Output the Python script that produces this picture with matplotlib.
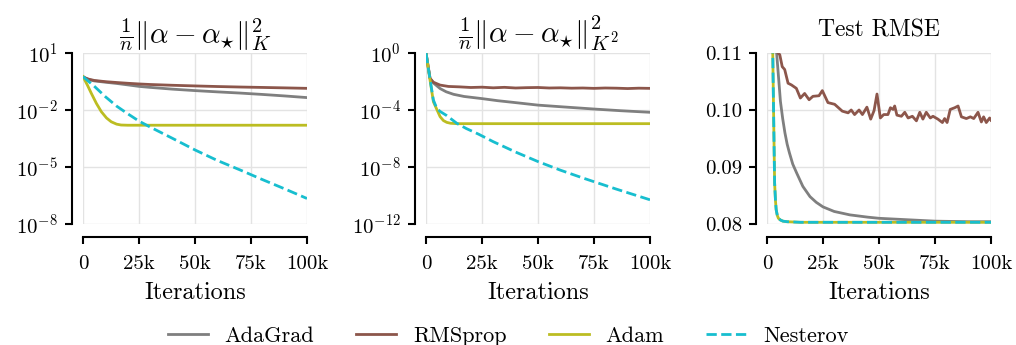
import matplotlib
matplotlib.use("Agg")
import matplotlib.pyplot as plt
from matplotlib.ticker import FixedLocator, NullLocator

plt.rcParams.update({
    "font.family": "serif",
    "font.serif": ["cmr10"],
    "mathtext.fontset": "cm",
    "axes.formatter.use_mathtext": True,
    "axes.unicode_minus": False,
})

# --- Donnees : norme K ---
k_iters_ada = [0, 1000, 2500, 5000, 10000, 15000, 20000, 25000, 30000, 40000, 50000, 60000, 70000, 80000, 90000, 100000]
k_adagrad = [0.57, 0.48, 0.40, 0.34, 0.29, 0.25, 0.21, 0.175, 0.155, 0.125, 0.105, 0.09, 0.078, 0.066, 0.055, 0.045]
k_rmsprop = [0.57, 0.49, 0.42, 0.36, 0.31, 0.28, 0.255, 0.235, 0.22, 0.20, 0.185, 0.172, 0.162, 0.154, 0.146, 0.138]
k_iters_adam = [0, 2000, 3700, 6000, 8200, 10500, 12600, 15000, 17000, 20000, 30000, 50000, 75000, 100000]
k_adam = [0.57, 0.2, 0.076, 0.022, 0.0081, 0.0038, 0.0024, 0.0018, 0.00162, 0.00158, 0.00158, 0.00158, 0.00158, 0.00158]
k_iters_nest = [0, 5000, 10000, 15000, 20000, 25000, 30000, 40000, 50000, 60000, 70000, 80000, 90000, 100000]
k_nesterov = [0.57, 0.18, 0.05, 0.016, 0.0063, 0.0026, 0.00126, 3.2e-4, 7.9e-5, 2.2e-5, 7.1e-6, 2.2e-6, 7.1e-7, 2.2e-7]

# --- Donnees : norme K^2 ---
k2_iters_rms = [0, 1800, 3300, 6300, 10000, 15000, 20000, 25000, 30000, 35000, 40000, 45000, 50000, 55000, 60000, 65000, 70000, 75000, 80000, 85000, 90000, 95000, 100000]
k2_rmsprop = [1.0, 0.0166, 0.0089, 0.0056, 0.0045, 0.0042, 0.0038, 0.0040, 0.0036, 0.0039, 0.0035, 0.0037, 0.0038, 0.0035, 0.0036, 0.0034, 0.0035, 0.0033, 0.0035, 0.0034, 0.0032, 0.0034, 0.0033]
k2_iters_ada = [0, 1800, 3300, 6300, 9000, 12300, 17000, 25000, 32000, 40700, 50000, 60000, 75000, 87000, 100000]
k2_adagrad = [1.0, 0.0166, 0.0079, 0.0032, 0.0019, 0.00126, 8.9e-4, 6.3e-4, 4.5e-4, 3.2e-4, 2.2e-4, 1.7e-4, 1.17e-4, 8.9e-5, 6.9e-5]
k2_iters_adam = [0, 1800, 3300, 4800, 6300, 7800, 9300, 11000, 13800, 20000, 40000, 60000, 80000, 100000]
k2_adam = [1.0, 0.0126, 3.8e-4, 1.12e-4, 3.4e-5, 1.8e-5, 1.35e-5, 1.17e-5, 1.1e-5, 1.1e-5, 1.1e-5, 1.1e-5, 1.1e-5, 1.1e-5]
k2_iters_nest = [0, 1800, 3300, 4800, 6300, 9300, 13800, 18000, 23500, 30000, 40000, 50000, 60000, 70000, 75000, 85000, 100000]
k2_nesterov = [1.0, 0.0141, 5.0e-4, 1.32e-4, 7.9e-5, 4.0e-5, 1.15e-5, 5.0e-6, 2.0e-6, 6.0e-7, 1.12e-7, 2.4e-8, 6.0e-9, 1.7e-9, 9.3e-10, 2.8e-10, 5.0e-11]

# --- Donnees : RMSE test ---
r_iters_ada = [0, 2500, 4300, 5000, 6000, 7000, 8000, 9000, 10000, 11500, 13300, 16000, 19200, 22000, 25000, 30000, 37000, 45000, 50000, 60000, 75000, 90000, 100000]
r_adagrad = [0.35, 0.15, 0.110, 0.1065, 0.1015, 0.0985, 0.0960, 0.0940, 0.0925, 0.0905, 0.0889, 0.0866, 0.0848, 0.0838, 0.0830, 0.0822, 0.0816, 0.0812, 0.0810, 0.0808, 0.0805, 0.0804, 0.0804]
r_iters_rms = [0, 3000, 4900, 5700, 6800, 7900, 9400, 10900, 13100, 14900, 16800, 18800, 20500, 23200, 24700, 27200, 30200,
               33600, 36200, 37600, 39100, 41100, 42600, 44600, 46300, 47800, 49100, 50600, 52100, 54000, 55100, 56300,
               57000, 58000, 60000, 61500, 63000, 64900, 66700, 68200, 69600, 71100, 72900, 74100, 76300, 78300, 79300,
               80400, 81800, 83800, 85300, 86800, 89000, 90800, 92300, 94200, 95700, 96700, 97900, 99400, 100000]
r_rmsprop = [0.35, 0.13, 0.110, 0.1097, 0.1076, 0.1071, 0.1047, 0.1044, 0.1038, 0.1021, 0.1029, 0.1018, 0.1024, 0.1025, 0.1034, 0.1013, 0.1010,
             0.0998, 0.0995, 0.1000, 0.0992, 0.1000, 0.0992, 0.1005, 0.0984, 0.0999, 0.1028, 0.0986, 0.0992, 0.0992, 0.1004, 0.1001,
             0.1007, 0.0991, 0.0989, 0.0996, 0.0986, 0.0989, 0.0981, 0.0996, 0.0984, 0.0996, 0.0986, 0.0989, 0.0984, 0.0978, 0.0985,
             0.0978, 0.1001, 0.1004, 0.1007, 0.0988, 0.0985, 0.0988, 0.0985, 0.0996, 0.0979, 0.0988, 0.0978, 0.0986, 0.0982]
r_iters_adam = [0, 1500, 2500, 3000, 3400, 3800, 4100, 4600, 5100, 6000, 7100, 9000, 15000, 30000, 50000, 75000, 100000]
r_adam = [0.35, 0.16, 0.112, 0.098, 0.0872, 0.0840, 0.0825, 0.0815, 0.0810, 0.0807, 0.0805, 0.0804, 0.0803, 0.0803, 0.0803, 0.0803, 0.0803]
r_nesterov = [0.35, 0.16, 0.112, 0.098, 0.0872, 0.0840, 0.0825, 0.0815, 0.0810, 0.0807, 0.0805, 0.0804, 0.0803, 0.0803, 0.0803, 0.0803, 0.0803]

x_ticks = [0, 25000, 50000, 75000, 100000]
x_tick_labels = ["0", "25k", "50k", "75k", "100k"]
noms = ["AdaGrad", "RMSprop", "Adam", "Nesterov"]
couleurs = ["#7f7f7f", "#8c564b", "#bcbd22", "#17becf"]

fig = plt.figure(figsize=(10.16, 3.45), dpi=100)
largeur, hauteur = 224 / 1016, 171 / 345
bas = (345 - 224) / 345
axes = [fig.add_axes([g / 1016, bas, largeur, hauteur]) for g in (83, 426, 767)]

lw = 2.0
# Panneau 1
ax = axes[0]
ax.plot(k_iters_ada, k_adagrad, color=couleurs[0], lw=lw, label=noms[0])
ax.plot(k_iters_ada, k_rmsprop, color=couleurs[1], lw=lw, label=noms[1])
ax.plot(k_iters_adam, k_adam, color=couleurs[2], lw=lw, label=noms[2])
ax.plot(k_iters_nest, k_nesterov, color=couleurs[3], lw=lw, ls="--", label=noms[3])
ax.set_yscale("log")
ax.set_ylim(1e-8, 1e1)
ax.yaxis.set_major_locator(FixedLocator([1e-8, 1e-5, 1e-2, 1e1]))
ax.set_title(r"$\frac{1}{n}\Vert\alpha-\alpha_{\star}\Vert_{K}^{2}$", fontsize=21, pad=5)

# Panneau 2
ax = axes[1]
ax.plot(k2_iters_ada, k2_adagrad, color=couleurs[0], lw=lw)
ax.plot(k2_iters_rms, k2_rmsprop, color=couleurs[1], lw=lw)
ax.plot(k2_iters_adam, k2_adam, color=couleurs[2], lw=lw)
ax.plot(k2_iters_nest, k2_nesterov, color=couleurs[3], lw=lw, ls="--")
ax.set_yscale("log")
ax.set_ylim(1e-12, 1e0)
ax.yaxis.set_major_locator(FixedLocator([1e-12, 1e-8, 1e-4, 1e0]))
ax.set_title(r"$\frac{1}{n}\Vert\alpha-\alpha_{\star}\Vert_{K^2}^{2}$", fontsize=21, pad=5)

# Panneau 3
ax = axes[2]
ax.plot(r_iters_ada, r_adagrad, color=couleurs[0], lw=lw)
ax.plot(r_iters_rms, r_rmsprop, color=couleurs[1], lw=lw)
ax.plot(r_iters_adam, r_adam, color=couleurs[2], lw=lw)
ax.plot(r_iters_adam, r_nesterov, color=couleurs[3], lw=lw, ls="--")
ax.set_ylim(0.08, 0.11)
ax.set_yticks([0.08, 0.09, 0.10, 0.11])
ax.set_yticklabels(["0.08", "0.09", "0.10", "0.11"])
ax.set_title("Test RMSE", fontsize=17, pad=12)

for ax in axes:
    ax.set_xlim(0, 100000)
    ax.set_xticks(x_ticks)
    ax.set_xticklabels(x_tick_labels)
    ax.yaxis.set_minor_locator(NullLocator())
    ax.set_xlabel("Iterations", fontsize=17.5, labelpad=6)
    ax.grid(True, color="#e3e3e3", lw=1.0)
    ax.set_axisbelow(True)
    for s in ("top", "right"):
        ax.spines[s].set_visible(False)
    ax.spines["left"].set_position(("outward", 8))
    ax.spines["bottom"].set_position(("outward", 9.5))
    ax.spines["left"].set_linewidth(1.5)
    ax.spines["bottom"].set_linewidth(1.5)
    ax.tick_params(axis="both", which="major", labelsize=15, length=5, width=1.5)
    ax.tick_params(axis="x", pad=8)
    ax.tick_params(axis="y", pad=5)

handles, labels = axes[0].get_legend_handles_labels()
fig.legend(handles, labels, loc="center", bbox_to_anchor=(0.5, 1 - 336 / 345), ncol=4,
           frameon=False, fontsize=16, handlelength=1.8, handletextpad=0.75, columnspacing=1.9)

fig.savefig("out.png", dpi=100)
